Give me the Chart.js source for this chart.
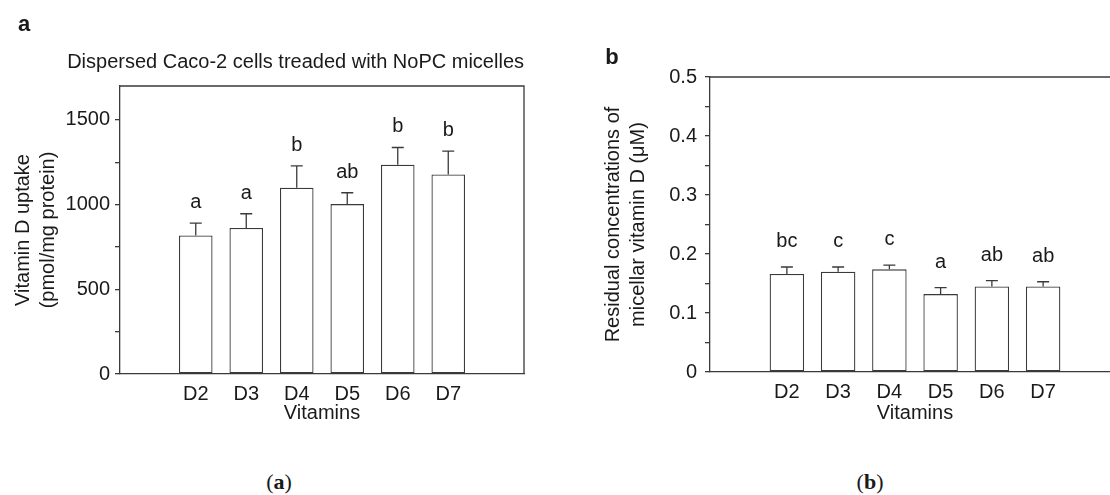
<!DOCTYPE html>
<html>
<head>
<meta charset="utf-8">
<script src="https://cdn.jsdelivr.net/npm/chart.js@4.4.1/dist/chart.umd.min.js"></script>
<style>
  html, body { margin: 0; padding: 0; background: #fff; }
  body { width: 1110px; height: 495px; position: relative; overflow: hidden;
         font-family: 'Liberation Sans', Arial, sans-serif; color: #1a1a1a; }
  canvas { position: absolute; top: 0; }
  #chartA { left: 0; }
  #chartB { left: 580px; }
  .tag { position: absolute; font-weight: bold; font-size: 22px; line-height: 1; transform: translate(-50%, -50%); }
  .cap { position: absolute; font-family: 'Liberation Serif', 'Times New Roman', serif; font-size: 22px;
         line-height: 1; transform: translate(-50%, -50%); }
</style>
</head>
<body>
<canvas id="chartA" width="560" height="440"></canvas>
<canvas id="chartB" width="560" height="440"></canvas>
<div class="tag" style="left:24px;top:24px">a</div>
<div class="tag" style="left:612px;top:57px">b</div>
<div class="cap" style="left:279px;top:482px">(<b>a</b>)</div>
<div class="cap" style="left:870px;top:482px">(<b>b</b>)</div>
<script>
// data
const vitamins = ['D2', 'D3', 'D4', 'D5', 'D6', 'D7'];

const uptakeMean = [818, 862, 1100, 1003, 1235, 1178];
const uptakeSD = [73, 84, 129, 67, 102, 137];
const uptakeGroups = ['a', 'a', 'b', 'ab', 'b', 'b'];
const uptakeTicks = [0, 250, 500, 750, 1000, 1250, 1500];

const residualMean = [0.166, 0.170, 0.174, 0.132, 0.145, 0.145];
const residualSD = [0.012, 0.008, 0.007, 0.011, 0.010, 0.008];
const residualGroups = ['bc', 'c', 'c', 'a', 'ab', 'ab'];
const residualTicks = [0, 0.05, 0.1, 0.15, 0.2, 0.25, 0.3, 0.35, 0.4, 0.45, 0.5];

const LINE = '#3a3a3a';
const TEXT = '#1a1a1a';

Chart.defaults.font.family = "'Liberation Sans', Arial, sans-serif";
Chart.defaults.color = TEXT;

// top + right edges of the plot box
const framePlugin = {
  id: 'frame',
  afterDraw(chart) {
    const { ctx, chartArea: a } = chart;
    ctx.save();
    ctx.strokeStyle = LINE;
    ctx.lineWidth = 1.3;
    ctx.beginPath();
    ctx.moveTo(a.left, a.top);
    ctx.lineTo(a.right, a.top);
    ctx.lineTo(a.right, a.bottom);
    ctx.stroke();
    ctx.restore();
  },
};

// upper error bars and the significance letters above them
const errorBarPlugin = {
  id: 'errorBars',
  afterDatasetsDraw(chart, args, opts) {
    const { ctx } = chart;
    const y = chart.scales.y;
    const ds = chart.data.datasets[0];
    const meta = chart.getDatasetMeta(0);
    ctx.save();
    ctx.strokeStyle = LINE;
    ctx.lineWidth = 1.3;
    ctx.fillStyle = TEXT;
    ctx.font = "20px 'Liberation Sans', Arial, sans-serif";
    ctx.textAlign = 'center';
    ctx.textBaseline = 'alphabetic';
    meta.data.forEach((bar, i) => {
      const v = ds.data[i];
      if (v == null) return;
      const top = y.getPixelForValue(v + ds.sd[i]);
      ctx.beginPath();
      ctx.moveTo(bar.x, bar.y);
      ctx.lineTo(bar.x, top);
      ctx.moveTo(bar.x - 6, top);
      ctx.lineTo(bar.x + 6, top);
      ctx.stroke();
      ctx.fillText(ds.groups[i], bar.x, top - opts.gap);
    });
    ctx.restore();
  },
};

// one empty slot on each side, as in the original axes
const padded = (arr, fill) => [fill, ...arr, fill];

function makePanel(canvasId, p) {
  return new Chart(document.getElementById(canvasId), {
    type: 'bar',
    plugins: [framePlugin, errorBarPlugin],
    data: {
      labels: padded(vitamins, ''),
      datasets: [{
        data: padded(p.mean, null),
        sd: padded(p.sd, null),
        groups: padded(p.groups, ''),
        backgroundColor: '#ffffff',
        borderColor: LINE,
        borderWidth: 1.3,
        borderSkipped: false,
        barPercentage: p.barPct,
        categoryPercentage: 1,
      }],
    },
    options: {
      responsive: false,
      animation: false,
      layout: { padding: p.padding },
      plugins: {
        legend: { display: false },
        tooltip: { enabled: false },
        title: p.title
          ? { display: true, text: p.title, align: 'end', color: TEXT,
              font: { size: 20, weight: 'normal', lineHeight: 1.2 }, padding: { top: 10, bottom: 12 } }
          : { display: false },
        errorBars: { gap: p.gap },
      },
      scales: {
        x: {
          grid: { display: false, drawTicks: false },
          border: { display: true, color: LINE, width: 1.3 },
          ticks: { color: TEXT, padding: 8, font: { size: 20 }, maxRotation: 0, autoSkip: false },
          title: { display: true, text: 'Vitamins', color: TEXT,
                   font: { size: 20, lineHeight: 1.2 }, padding: { top: 0, bottom: 1 } },
          afterFit: (s) => { s.height = p.xHeight; },
        },
        y: {
          min: 0,
          max: p.yMax,
          afterBuildTicks: (s) => { s.ticks = p.ticks.map((value) => ({ value })); },
          afterFit: (s) => { s.width = p.yWidth; },
          grid: { drawOnChartArea: false, drawTicks: true, tickLength: 5, color: LINE, lineWidth: 1.3 },
          border: { display: true, color: LINE, width: 1.3 },
          ticks: { color: TEXT, padding: p.tickPad, font: { size: 20 }, callback: p.format },
          title: { display: true, text: p.yTitle, color: TEXT,
                   font: { size: 20, lineHeight: 1.25 }, padding: { top: p.titlePad, bottom: 0 } },
        },
      },
    },
  });
}

makePanel('chartA', {
  mean: uptakeMean,
  sd: uptakeSD,
  groups: uptakeGroups,
  ticks: uptakeTicks,
  yMax: 1700,
  format: (v) => (v % 500 === 0 ? String(v) : ''),
  yTitle: ['Vitamin D uptake', '(pmol/mg protein)'],
  title: 'Dispersed Caco-2 cells treaded with NoPC micelles',
  padding: { top: 40, right: 36, bottom: 14, left: 0 },
  yWidth: 120,
  xHeight: 52,
  tickPad: 5,
  titlePad: 10.5,
  barPct: 0.665,
  gap: 15,
});

makePanel('chartB', {
  mean: residualMean,
  sd: residualSD,
  groups: residualGroups,
  ticks: residualTicks,
  yMax: 0.5,
  format: (v) => (Math.round(v * 20) % 2 === 0 ? (v === 0 ? '0' : v.toFixed(1)) : ''),
  yTitle: ['Residual concentrations of', 'micellar vitamin D (μM)'],
  title: null,
  padding: { top: 77, right: 20, bottom: 14, left: 0 },
  yWidth: 130,
  xHeight: 54,
  tickPad: 8,
  titlePad: 20.5,
  barPct: 0.673,
  gap: 20,
});
</script>
</body>
</html>
